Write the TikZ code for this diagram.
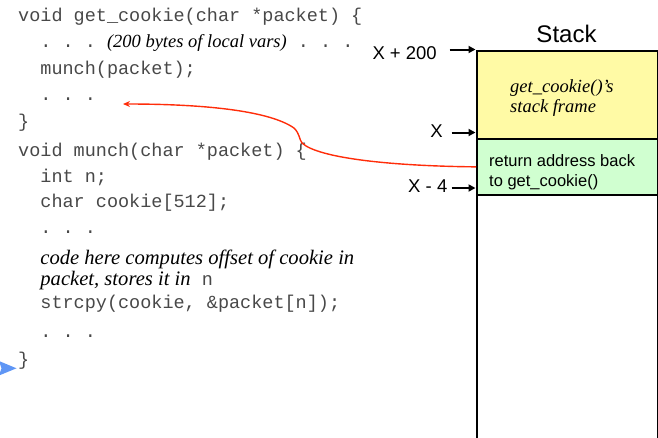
\documentclass[tikz,border=0pt]{standalone}
\usepackage{fontspec}
\setmainfont{Liberation Serif}
\setsansfont{Liberation Sans}
\setmonofont{Liberation Mono}
\usetikzlibrary{arrows.meta}

\definecolor{codegray}{RGB}{72,72,72}
\definecolor{frameyellow}{RGB}{255,250,165}
\definecolor{retgreen}{RGB}{208,255,208}
\definecolor{linkred}{RGB}{255,45,10}
\definecolor{pointerblue}{RGB}{95,150,245}

% inline comments inside the code listing
\newcommand{\cmt}[1]{{\color{black}\fontsize{18.5}{22}\rmfamily\itshape #1}}
\newcommand{\bigcmt}[1]{{\color{black}\fontsize{20.6}{22}\rmfamily\itshape #1}}

\begin{document}
\begin{tikzpicture}[x=1pt,y=-1pt,
  code/.style={anchor=base west, inner sep=0pt, font=\fontsize{18.5}{22}\ttfamily, text=codegray},
  addr/.style={anchor=east, inner sep=0pt, font=\fontsize{18.5}{22}\sffamily},
  addrarrow/.style={-{Triangle[length=7pt,width=7pt]}, line width=2pt, shorten <=#1},
  stackcell/.style={draw=black, line width=1.7pt, anchor=north west, inner sep=0pt,
                    minimum width=181pt},
  celltext/.style={anchor=base west, inner sep=0pt},
]
\useasboundingbox (0,0) rectangle (658,437);

% ---- source code ----
\node[code] (l1)  at (18,21)    {void get\_cookie(char *packet) \{};
\node[code] (l2)  at (40.2,47.5) {. . . \cmt{(200 bytes of local vars)} . . .};
\node[code] (l3)  at (40.2,74)   {munch(packet);};
\node[code] (l4)  at (40.2,100.5){. . .};
\node[code] (l5)  at (18,127)    {\}};
\node[code] (l6)  at (18,156)    {void munch(char *packet) \{};
\node[code] (l7)  at (40.2,182)  {int n;};
\node[code] (l8)  at (40.2,207.5){char cookie[512];};
\node[code] (l9)  at (40.2,233.5){. . .};
\node[code] (l10) at (40.2,264)  {\bigcmt{code here computes offset of cookie in}};
\node[code] (l11) at (40.2,285.5){\bigcmt{packet, stores it in} n};
\node[code] (l12) at (40.2,308.5){strcpy(cookie, \&packet[n]);};
\node[code] (l13) at (40.2,337)  {. . .};
\node[code] (l14) at (18,365)    {\}};

% current-line pointer
\fill[pointerblue] (-1,361) -- (16.5,368.3) -- (-1,375.5) -- (1.5,368.3) -- cycle;

% ---- stack ----
\node[font=\fontsize{24}{28}\sffamily] (title) at (566.5,33.5) {Stack};

\node[stackcell, minimum height=250pt] (free) at (476,194) {};
\node[stackcell, fill=retgreen, minimum height=56pt] (ret) at (476,138) {};
\node[stackcell, fill=frameyellow, minimum height=88pt] (frame) at (476,50) {};

\node[celltext, font=\fontsize{18.5}{22}\rmfamily\itshape] (fr1) at (510,92)  {get\_cookie()’s};
\node[celltext, font=\fontsize{18.5}{22}\rmfamily\itshape] (fr2) at (510,112) {stack frame};
\node[celltext, font=\fontsize{16.5}{20}\sffamily] (ra1) at (489,166) {return address back};
\node[celltext, font=\fontsize{16.5}{20}\sffamily] (ra2) at (489,186) {to get\_cookie()};

% address markers
\coordinate (ptop) at (475.5,49.5);
\coordinate (pmid) at (475.5,132.5);
\coordinate (plow) at (475.5,188);
\node[addr] (a200) at (437,53.5)  {X + 200};
\node[addr] (ax)   at (443,131)   {X};
\node[addr] (ax4)  at (447.5,186) {X - 4};
\draw[addrarrow=12.5pt] (a200.east |- ptop) -- (ptop);
\draw[addrarrow=8.5pt] (ax.east |- pmid) -- (pmid);
\draw[addrarrow=4pt] (ax4.east |- plow) -- (plow);

% return link back into get_cookie
\coordinate (back) at (123,104);
\draw[linkred, line width=1.4pt, -{Stealth[length=7pt,width=6pt]}]
  (ret.west) .. controls (390,166) and (318,158) .. (302,143)
  .. controls (299,139) and (300,134) .. (294,128)
  .. controls (268,110) and (200,104) .. (back);
\end{tikzpicture}
\end{document}
